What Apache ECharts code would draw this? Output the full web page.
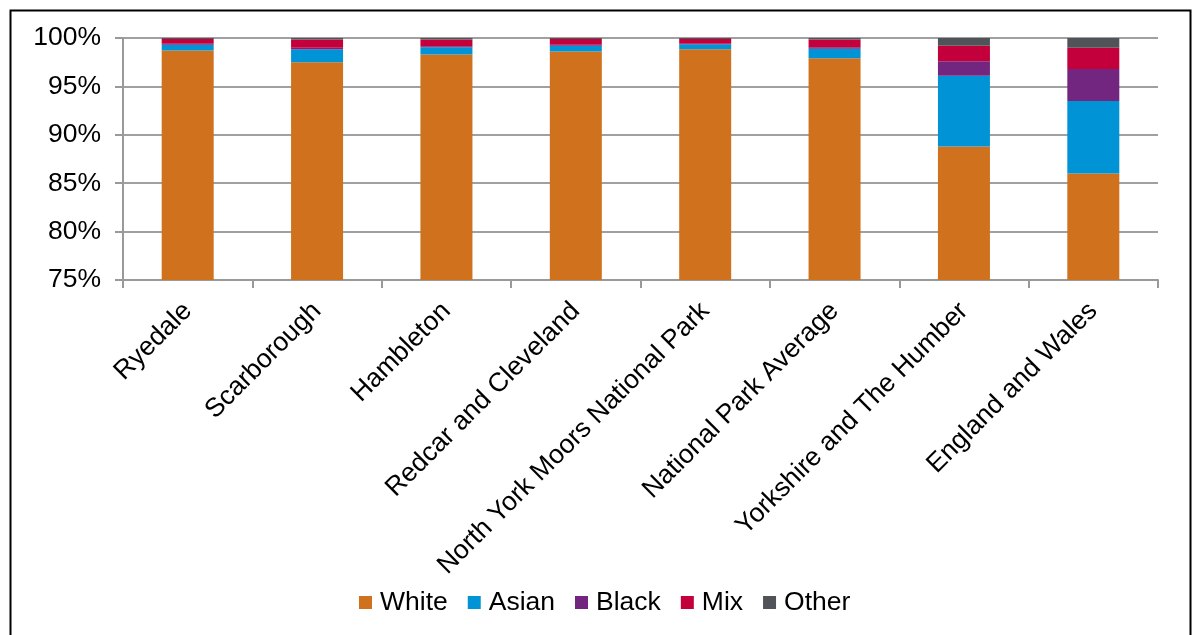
<!DOCTYPE html>
<html>
<head>
<meta charset="utf-8">
<script src="https://cdn.jsdelivr.net/npm/echarts@6/dist/echarts.min.js"></script>
<style>
html,body{margin:0;padding:0;background:#fff;}
#chart{width:1193px;height:635px;}
</style>
</head>
<body>
<div id="chart"></div>
<script>
const categories = ["Ryedale","Scarborough","Hambleton","Redcar and Cleveland","North York Moors National Park","National Park Average","Yorkshire and The Humber","England and Wales"];
const white = [98.7, 97.5, 98.3, 98.6, 98.85, 97.9, 88.8, 86.0];
const asian = [0.6, 1.3, 0.75, 0.6, 0.5, 1.0, 7.3, 7.5];
const black = [0.1, 0.2, 0.1, 0.1, 0.05, 0.15, 1.5, 3.3];
const mix = [0.5, 0.85, 0.7, 0.6, 0.5, 0.8, 1.6, 2.2];
const other = [0.1, 0.15, 0.15, 0.1, 0.1, 0.15, 0.8, 1.0];
const yTicks = {min: 75, max: 100, interval: 5};

const colors = {White:'#D0711D', Asian:'#0094D6', Black:'#73267F', Mix:'#C4003C', Other:'#505458'};
const fontFamily = '"Liberation Sans", Arial, sans-serif';

function bar(name, data){
  return {name, type:'bar', stack:'total', data, barWidth:52,
    itemStyle:{color:colors[name]}, emphasis:{disabled:true}};
}

const chart = echarts.init(document.getElementById('chart'), null, {renderer:'canvas'});
chart.setOption({
  animation:false,
  textStyle:{fontFamily},
  graphic:[{type:'rect', left:8, top:8, shape:{width:1180, height:640},
    style:{fill:'none', stroke:'#000', lineWidth:2}, z:-1, silent:true}],
  grid:{left:123, right:35, top:38, bottom:355, containLabel:false},
  legend:{bottom:14, left:354, itemWidth:13, itemHeight:13, itemGap:20, icon:'rect',
    textStyle:{fontSize:26.5, color:'#000', fontFamily, padding:[0,0,0,3]},
    data:['White','Asian','Black','Mix','Other']},
  xAxis:{type:'category', data:categories,
    axisLine:{lineStyle:{color:'#999', width:2}},
    axisTick:{show:true, length:8, lineStyle:{color:'#999', width:2}},
    axisLabel:{interval:0, rotate:45, fontSize:26.5, color:'#000', margin:27, fontFamily}},
  yAxis:{type:'value', min:yTicks.min, max:yTicks.max, interval:yTicks.interval,
    axisLine:{show:true, lineStyle:{color:'#999', width:2}},
    axisTick:{show:true, length:8, lineStyle:{color:'#999', width:2}},
    splitLine:{lineStyle:{color:'#a0a0a0', width:2}},
    axisLabel:{formatter:'{value}%', fontSize:26.5, color:'#000', margin:22, fontFamily}},
  series:[bar('White', white), bar('Asian', asian), bar('Black', black), bar('Mix', mix), bar('Other', other)]
});
</script>
</body>
</html>
